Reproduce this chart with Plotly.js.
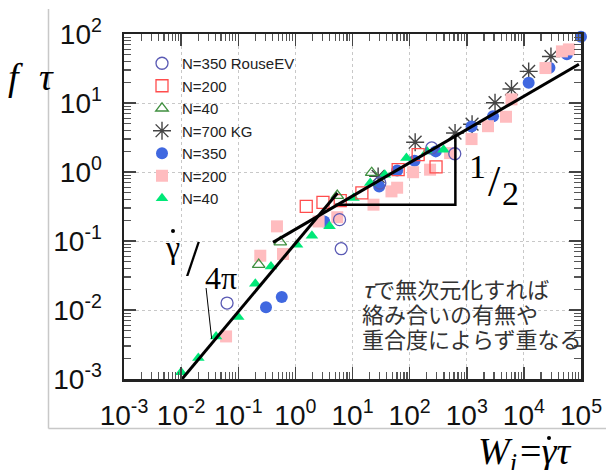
<!DOCTYPE html>
<html>
<head>
<meta charset="utf-8">
<script src="https://cdn.plot.ly/plotly-3.0.1.min.js"></script>
<style>html,body{margin:0;padding:0;background:#fff}#chart{width:606px;height:470px}</style>
</head>
<body>
<div id="chart"></div>
<script>
// ---- data ----
const rouseEV_x = [0.0637, 6.34, 5.93, 30.1, 244, 617];
const rouseEV_y = [0.0126, 0.0773, 0.204, 0.693, 2.23, 1.84];

const n200open_x = [1.55, 3.04, 6.1, 14.6, 63, 141, 290];
const n200open_y = [0.317, 0.362, 0.384, 0.497, 1.08, 1.78, 1.19];

const n40open_x = [0.228, 0.545, 5.41, 21.7];
const n40open_y = [0.0454, 0.0961, 0.454, 0.977];

const kg700_x = [28.1, 125, 624, 1239, 3126, 6067, 12130, 29790];
const kg700_y = [0.863, 2.7, 3.67, 4.93, 10.1, 15.96, 28.7, 47.3];

const n350_x = [0.306, 0.578, 3.2, 29.3, 60.4, 122, 287, 1213, 2884, 12130, 28050, 56620, 99900];
const n350_y = [0.011, 0.0154, 0.192, 0.618, 1.05, 1.46, 1.99, 4.58, 6.44, 19.7, 32.5, 50.9, 91.4];

const n200_x = [0.0612, 0.243, 0.476, 0.607, 2.55, 5.41, 23.3, 48.1, 60.4, 115, 228, 511, 1213, 2355, 4864, 6067, 23880, 46360, 61380];
const n200_y = [0.00414, 0.0612, 0.163, 0.0649, 0.192, 0.221, 0.336, 0.524, 0.592, 0.993, 1.08, 1.88, 3.0, 4.61, 6.32, 11.3, 32.1, 56, 59.8];

const n40_x = [0.010, 0.020, 0.0409, 0.1, 0.199, 0.374, 1.07, 1.95, 3.96, 10.4, 20.4, 36.8, 87.9, 202, 393];
const n40_y = [0.00125, 0.00201, 0.00414, 0.00792, 0.024, 0.0428, 0.0883, 0.119, 0.163, 0.42, 0.693, 0.914, 1.6, 1.99, 2.1];

// guide lines
const lowRateLine_x = [0.00828, 5.47];
const lowRateLine_y = [0.0008, 0.497];
const halfSlopeLine_x = [0.406, 91900];
const halfSlopeLine_y = [0.0955, 36.5];
const slopeTriangle_x = [4.99, 632, 632];
const slopeTriangle_y = [0.336, 0.336, 3.30];
const leader_x = [0.02735, 0.0343];
const leader_y = [0.02084, 0.0038];

// ticks
const xTickVals = [1e-3, 1e-2, 1e-1, 1, 10, 100, 1e3, 1e4, 1e5];
const xTickText = ['10<sup>-3</sup>', '10<sup>-2</sup>', '10<sup>-1</sup>', '10<sup>0</sup>', '10<sup>1</sup>', '10<sup>2</sup>', '10<sup>3</sup>', '10<sup>4</sup>', '10<sup>5</sup>'];
const yTickVals = [1e-3, 1e-2, 1e-1, 1, 10, 100];
const yTickText = ['10<sup>-3</sup>', '10<sup>-2</sup>', '10<sup>-1</sup>', '10<sup>0</sup>', '10<sup>1</sup>', '10<sup>2</sup>'];

// annotation texts
const noteLines = ['<i>τ</i>で無次元化すれば', '絡み合いの有無や', '重合度によらず重なる'];

function minorVals(majors) {
  const out = [];
  majors.forEach(m => { for (let k = 2; k <= 9; k++) out.push(m * k); });
  return out;
}

// ---- geometry helpers for text (pixel -> paper) ----
const L = 124, R = 25, T = 34, B = 91, W = 606, H = 470;
const PW = W - L - R, PH = H - T - B;
const px = x => (x - L) / PW;
const py = y => (H - B - y) / PH;

const legendFont = {family: 'Liberation Sans, Arial, sans-serif', size: 15, color: '#222'};

const traces = [
  {name: 'N=700 KG', x: kg700_x, y: kg700_y, mode: 'markers', legendrank: 4,
   marker: {symbol: 'asterisk-open', size: 15, color: '#444', line: {color: '#444', width: 1.4}}},
  {name: 'N=350', x: n350_x, y: n350_y, mode: 'markers', legendrank: 5, cliponaxis: false,
   marker: {symbol: 'circle', size: 12, color: '#4068e0'}},
  {name: 'N=200', x: n200_x, y: n200_y, mode: 'markers', legendrank: 6,
   marker: {symbol: 'square', size: 12, color: '#ffbcbf'}},
  {name: 'N=40', x: n40_x, y: n40_y, mode: 'markers', legendrank: 7,
   marker: {symbol: 'triangle-up', size: 11, color: '#00e878'}},
  {name: 'N=350 RouseEV', x: rouseEV_x, y: rouseEV_y, mode: 'markers', legendrank: 1,
   marker: {symbol: 'circle-open', size: 12, color: '#5a5ab4', line: {width: 1.3}}},
  {name: 'N=200', x: n200open_x, y: n200open_y, mode: 'markers', legendrank: 2,
   marker: {symbol: 'square-open', size: 12, color: '#ff4d4d', line: {width: 1.3}}},
  {name: 'N=40', x: n40open_x, y: n40open_y, mode: 'markers', legendrank: 3,
   marker: {symbol: 'triangle-up-open', size: 11, color: '#3f8f3f', line: {width: 1.3}}},
  {x: lowRateLine_x, y: lowRateLine_y, mode: 'lines', showlegend: false, cliponaxis: false,
   line: {color: '#000', width: 3}, hoverinfo: 'skip'},
  {x: halfSlopeLine_x, y: halfSlopeLine_y, mode: 'lines', showlegend: false,
   line: {color: '#000', width: 3}, hoverinfo: 'skip'},
  {x: slopeTriangle_x, y: slopeTriangle_y, mode: 'lines', showlegend: false,
   line: {color: '#000', width: 2.5}, hoverinfo: 'skip'},
  {x: leader_x, y: leader_y, mode: 'lines', showlegend: false,
   line: {color: '#000', width: 1}, hoverinfo: 'skip'}
];

const axisCommon = {
  type: 'log', showline: true, linecolor: '#222', linewidth: 2.5, mirror: 'ticks',
  ticks: 'inside', ticklen: 12, tickwidth: 1.5, tickcolor: '#444',
  showgrid: true, gridcolor: '#c8c8c8', griddash: 'dot', gridwidth: 1,
  tickmode: 'array',
  tickfont: {family: 'Liberation Sans, Arial, sans-serif', size: 28, color: '#111'}
};

const serif = 'Liberation Serif, DejaVu Serif, serif';
const cjk = 'Noto Sans CJK JP, sans-serif';
const annotations = [
  {text: 'γ', x: px(172.5), y: py(247), font: {family: serif, size: 32, color: '#000'}},
  {text: '/', x: px(192.5), y: py(258), font: {family: serif, size: 50, color: '#000'}},
  {text: '4π', x: px(221), y: py(278), font: {family: serif, size: 32, color: '#000'}},
  {text: '1', x: px(477), y: py(166), font: {family: serif, size: 34, color: '#000'}},
  {text: '/', x: px(494.5), y: py(181.5), font: {family: serif, size: 44, color: '#000'}},
  {text: '2', x: px(510), y: py(193.5), font: {family: serif, size: 34, color: '#000'}},
  {text: noteLines[0], x: px(360), y: py(287.5), xanchor: 'left', font: {family: cjk, size: 22, color: '#333'}},
  {text: noteLines[1], x: px(360), y: py(312.5), xanchor: 'left', font: {family: cjk, size: 22, color: '#333'}},
  {text: noteLines[2], x: px(360), y: py(338), xanchor: 'left', font: {family: cjk, size: 22, color: '#333'}},
  {text: '<i>f</i>', x: px(15), y: py(77), font: {family: serif, size: 38, color: '#000'}},
  {text: '<i>τ</i>', x: px(46), y: py(77), font: {family: serif, size: 38, color: '#000'}},
  {text: '<i>W</i><sub><i>i</i></sub>', x: px(476), y: py(428), xanchor: 'left', yanchor: 'top', font: {family: serif, size: 38, color: '#000'}},
  {text: '=<i>γτ</i>', x: px(518), y: py(428), xanchor: 'left', yanchor: 'top', font: {family: serif, size: 38, color: '#000'}}
].map(a => Object.assign({xref: 'paper', yref: 'paper', showarrow: false, xanchor: 'center', yanchor: 'middle'}, a));

function dot(cx, cy, r) {
  return {type: 'circle', xref: 'paper', yref: 'paper', x0: px(cx - r), x1: px(cx + r), y0: py(cy + r), y1: py(cy - r),
          fillcolor: '#000', line: {width: 0}};
}

const layout = {
  width: W, height: H, margin: {l: L, r: R, t: T, b: B},
  paper_bgcolor: '#fff', plot_bgcolor: '#fff',
  font: {family: 'Liberation Sans, Arial, sans-serif', color: '#111'},
  showlegend: true,
  legend: {x: px(142), y: py(47), xanchor: 'left', yanchor: 'top', bgcolor: 'rgba(0,0,0,0)',
           font: legendFont, tracegroupgap: 0, itemclick: false},
  xaxis: Object.assign({}, axisCommon, {range: [-3, 5], tickvals: xTickVals, ticktext: xTickText, ticklabelstandoff: 10,
           minor: {tickmode: 'array', tickvals: minorVals(xTickVals.slice(0, -1)), ticks: 'inside', ticklen: 7, tickwidth: 1.2, tickcolor: '#555', showgrid: false}}),
  yaxis: Object.assign({}, axisCommon, {range: [-3, 2], tickvals: yTickVals, ticktext: yTickText, ticklabelstandoff: 14,
           minor: {tickmode: 'array', tickvals: minorVals(yTickVals.slice(0, -1)), ticks: 'inside', ticklen: 7, tickwidth: 1.2, tickcolor: '#555', showgrid: false}}),
  shapes: [
    {type: 'line', xref: 'paper', yref: 'paper', x0: px(48.5), x1: px(48.5), y0: py(9), y1: py(428.5), line: {color: '#c8c8c8', width: 1.5}},
    {type: 'line', xref: 'paper', yref: 'paper', x0: px(48.5), x1: px(606), y0: py(428.5), y1: py(428.5), line: {color: '#c8c8c8', width: 1.5}},
    dot(173, 231, 2),
    dot(549, 438, 2)
  ],
  annotations: annotations
};

Plotly.newPlot('chart', traces, layout, {staticPlot: true, displayModeBar: false});
</script>
</body>
</html>
